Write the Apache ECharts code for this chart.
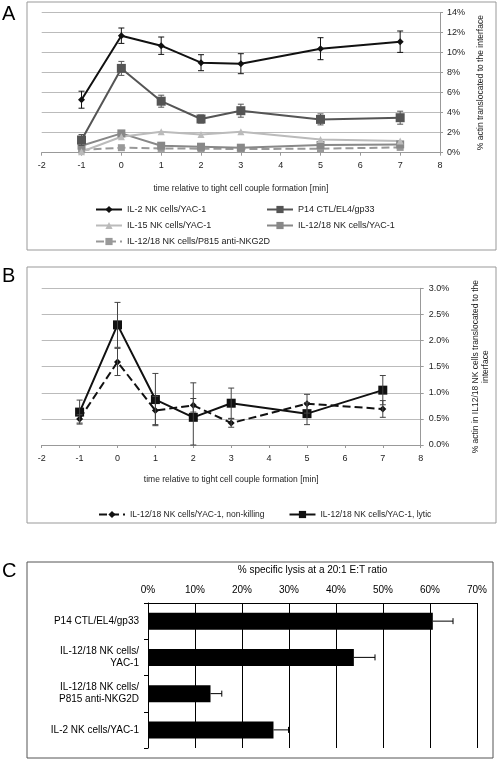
<!DOCTYPE html>
<html><head><meta charset="utf-8">
<script src="https://cdn.jsdelivr.net/npm/echarts@6/dist/echarts.min.js"></script>
<style>html,body{margin:0;padding:0;background:#fff}#c{width:498px;height:761px}</style>
</head><body><div id="c"></div>
<script>
// ---- Panel A data (% actin translocated) ----
const timesA = [-1, 0, 1, 2, 3, 5, 7];
const il2Yac = [5.3, 11.7, 10.7, 9.0, 8.9, 10.4, 11.1];
const il2YacErr = [0.85, 0.77, 0.87, 0.8, 1.0, 1.1, 1.07];
const p14 = [1.27, 8.43, 5.15, 3.37, 4.2, 3.33, 3.5];
const p14Err = [0.55, 0.7, 0.6, 0.4, 0.65, 0.55, 0.65];
const il15Yac = [0.1, 1.6, 2.1, 1.83, 2.1, 1.33, 1.17];
const il1218Yac = [0.7, 1.93, 0.7, 0.6, 0.5, 0.77, 0.83];
const il1218P815 = [0.27, 0.5, 0.43, 0.4, 0.37, 0.4, 0.53];
const namesA = ['IL-2 NK cells/YAC-1', 'P14 CTL/EL4/gp33', 'IL-15 NK cells/YAC-1', 'IL-12/18 NK cells/YAC-1', 'IL-12/18 NK cells/P815 anti-NKG2D'];

// ---- Panel B data ----
const timesB = [-1, 0, 1, 2, 3, 5, 7];
const nonKilling = [0.50, 1.59, 0.66, 0.76, 0.42, 0.79, 0.69];
const nonKillingErr = [0.08, 0.26, 0.27, 0.13, 0.08, 0.18, 0.16];
const lytic = [0.63, 2.30, 0.87, 0.53, 0.80, 0.60, 1.05];
const lyticErr = [0.23, 0.43, 0.5, 0.66, 0.29, 0.21, 0.28];
const namesB = ['IL-12/18 NK cells/YAC-1, non-killing', 'IL-12/18 NK cells/YAC-1, lytic'];

// ---- Panel C data ----
const catsC = ['P14 CTL/EL4/gp33', 'IL-12/18 NK cells/\nYAC-1', 'IL-12/18 NK cells/\nP815 anti-NKG2D', 'IL-2 NK cells/YAC-1'];
const lysis = [60.6, 43.8, 13.3, 26.7];
const lysisErr = [4.3, 4.5, 2.4, 3.2];

const FONT = 'Liberation Sans, Arial, sans-serif';
const zip = (xs, ys) => xs.map((x, i) => [x, ys[i]]);
const errData = (xs, ys, es) => xs.map((x, i) => [x, Math.max(0, ys[i] - es[i]), ys[i] + es[i]]);

function errRender(color) {
  return function (params, api) {
    const x = api.value(0), lo = api.value(1), hi = api.value(2);
    const a = api.coord([x, lo]), b = api.coord([x, hi]);
    const w = 3;
    const st = { stroke: color, lineWidth: 1 };
    return { type: 'group', children: [
      { type: 'line', shape: { x1: a[0], y1: a[1], x2: b[0], y2: b[1] }, style: st },
      { type: 'line', shape: { x1: a[0] - w, y1: a[1], x2: a[0] + w, y2: a[1] }, style: st },
      { type: 'line', shape: { x1: b[0] - w, y1: b[1], x2: b[0] + w, y2: b[1] }, style: st }
    ]};
  };
}
function errC(params, api) {
  const c = api.value(0), v = api.value(1), hi = api.value(2);
  const a = api.coord([v, c]), b = api.coord([hi, c]);
  const st = { stroke: '#000', lineWidth: 1 };
  return { type: 'group', children: [
    { type: 'line', shape: { x1: a[0], y1: a[1], x2: b[0], y2: b[1] }, style: st },
    { type: 'line', shape: { x1: b[0], y1: b[1] - 3, x2: b[0], y2: b[1] + 3 }, style: st }
  ]};
}

const axisLbl = { fontFamily: FONT, fontSize: 9, color: '#222' };
const chart = echarts.init(document.getElementById('c'), null, { renderer: 'canvas' });

const lineSeries = (name, data, color, symbol, size, dashed, xi) => ({
  name, type: 'line', xAxisIndex: xi, yAxisIndex: xi, data,
  symbol, symbolSize: size,
  lineStyle: { color, width: 2, type: dashed ? 'dashed' : 'solid' },
  itemStyle: { color }, z: 3
});

chart.setOption({
  animation: false,
  backgroundColor: '#fff',
  textStyle: { fontFamily: FONT },
  graphic: [
    { type: 'rect', shape: { x: 27, y: 2, width: 469, height: 248 }, style: { fill: 'none', stroke: '#999', lineWidth: 1 } },
    { type: 'rect', shape: { x: 27, y: 267, width: 469, height: 256 }, style: { fill: 'none', stroke: '#999', lineWidth: 1 } },
    { type: 'rect', shape: { x: 27, y: 562, width: 466, height: 196 }, style: { fill: 'none', stroke: '#555', lineWidth: 1 } },
    { type: 'text', left: 2, top: 4, style: { text: 'A', font: '20px ' + FONT, fill: '#000' } },
    { type: 'text', left: 2, top: 266, style: { text: 'B', font: '20px ' + FONT, fill: '#000' } },
    { type: 'text', left: 2, top: 561, style: { text: 'C', font: '20px ' + FONT, fill: '#000' } }
  ],
  grid: [
    { left: 41.7, right: 58, top: 12.7, height: 140, outerBoundsMode: 'none', containLabel: false },
    { left: 41.7, right: 77.3, top: 288.3, height: 156.7, outerBoundsMode: 'none', containLabel: false },
    { left: 148, right: 21, top: 603, height: 145, outerBoundsMode: 'none', containLabel: false }
  ],
  legend: [
    { data: [namesA[0], namesA[2], namesA[4]], left: 90, top: 200, orient: 'vertical', itemGap: 7, itemWidth: 26, itemHeight: 9,
      textStyle: { fontFamily: FONT, fontSize: 9, color: '#222' } },
    { data: [namesA[1], namesA[3]], left: 261, top: 200, orient: 'vertical', itemGap: 7, itemWidth: 26, itemHeight: 9,
      textStyle: { fontFamily: FONT, fontSize: 9, color: '#222' } },
    { data: namesB, left: 93, top: 505, orient: 'horizontal', itemGap: 24, itemWidth: 26, itemHeight: 9,
      textStyle: { fontFamily: FONT, fontSize: 8.5, color: '#222' } }
  ],
  xAxis: [
    { gridIndex: 0, type: 'value', min: -2, max: 8, interval: 1,
      axisLine: { onZero: false, lineStyle: { color: '#999' } }, axisTick: { show: true, length: 3, lineStyle: { color: '#999' } },
      splitLine: { show: false }, axisLabel: { ...axisLbl, margin: 8 },
      name: 'time relative to tight cell couple formation [min]', nameLocation: 'middle', nameGap: 31,
      nameTextStyle: { fontFamily: FONT, fontSize: 8.5, color: '#222' } },
    { gridIndex: 1, type: 'value', min: -2, max: 8, interval: 1,
      axisLine: { onZero: false, lineStyle: { color: '#999' } }, axisTick: { show: true, length: 3, lineStyle: { color: '#999' } },
      splitLine: { show: false }, axisLabel: { ...axisLbl, margin: 9 },
      name: 'time relative to tight cell couple formation [min]', nameLocation: 'middle', nameGap: 30,
      nameTextStyle: { fontFamily: FONT, fontSize: 8.5, color: '#222' } },
    { gridIndex: 2, type: 'value', position: 'top', min: 0, max: 70, interval: 10,
      axisLine: { show: true, onZero: false, lineStyle: { color: '#000' } }, axisTick: { show: false },
      splitLine: { show: true, lineStyle: { color: '#000', width: 1 } },
      axisLabel: { fontFamily: FONT, fontSize: 10, color: '#000', margin: 8, formatter: '{value}%' },
      name: '% specific lysis at a 20:1 E:T ratio', nameLocation: 'middle', nameGap: 28,
      nameTextStyle: { fontFamily: FONT, fontSize: 10, color: '#000' } }
  ],
  yAxis: [
    { gridIndex: 0, type: 'value', position: 'right', min: 0, max: 14, interval: 2,
      axisLine: { show: true, onZero: false, lineStyle: { color: '#999' } }, axisTick: { show: true, length: 3, lineStyle: { color: '#999' } },
      splitLine: { lineStyle: { color: '#bbb' } },
      axisLabel: { ...axisLbl, margin: 7, formatter: '{value}%' },
      name: '% actin translocated to the interface', nameLocation: 'middle', nameRotate: 90, nameGap: 33,
      nameTextStyle: { fontFamily: FONT, fontSize: 8.5, color: '#222' } },
    { gridIndex: 1, type: 'value', position: 'right', min: 0, max: 3, interval: 0.5,
      axisLine: { show: true, onZero: false, lineStyle: { color: '#999' } }, axisTick: { show: true, length: 3, lineStyle: { color: '#999' } },
      splitLine: { lineStyle: { color: '#bbb' } },
      axisLabel: { ...axisLbl, margin: 8, formatter: v => v.toFixed(1) + '%' },
      name: '% actin in IL12/18 NK cells translocated to the\ninterface', nameLocation: 'middle', nameRotate: 90, nameGap: 50,
      nameTextStyle: { fontFamily: FONT, fontSize: 8.5, color: '#222', lineHeight: 10 } },
    { gridIndex: 2, type: 'category', data: catsC, inverse: true,
      axisLine: { show: true, onZero: false, lineStyle: { color: '#000' } },
      axisTick: { show: true, length: 4, lineStyle: { color: '#000' } },
      axisLabel: { fontFamily: FONT, fontSize: 10, color: '#000', margin: 9, lineHeight: 12, align: 'right' } }
  ],
  series: [
    lineSeries(namesA[4], zip(timesA, il1218P815), '#999', 'rect', 7, true, 0),
    lineSeries(namesA[3], zip(timesA, il1218Yac), '#888', 'rect', 8, false, 0),
    lineSeries(namesA[2], zip(timesA, il15Yac), '#bbb', 'triangle', 7, false, 0),
    lineSeries(namesA[1], zip(timesA, p14), '#555', 'rect', 9, false, 0),
    lineSeries(namesA[0], zip(timesA, il2Yac), '#111', 'diamond', 7, false, 0),
    { type: 'custom', xAxisIndex: 0, yAxisIndex: 0, renderItem: errRender('#555'), data: errData(timesA, p14, p14Err), encode: { x: 0, y: [1, 2] }, z: 4 },
    { type: 'custom', xAxisIndex: 0, yAxisIndex: 0, renderItem: errRender('#111'), data: errData(timesA, il2Yac, il2YacErr), encode: { x: 0, y: [1, 2] }, z: 4 },
    lineSeries(namesB[0], zip(timesB, nonKilling), '#111', 'diamond', 7, true, 1),
    lineSeries(namesB[1], zip(timesB, lytic), '#111', 'rect', 9, false, 1),
    { type: 'custom', xAxisIndex: 1, yAxisIndex: 1, renderItem: errRender('#444'), data: errData(timesB, nonKilling, nonKillingErr), encode: { x: 0, y: [1, 2] }, z: 4 },
    { type: 'custom', xAxisIndex: 1, yAxisIndex: 1, renderItem: errRender('#444'), data: errData(timesB, lytic, lyticErr), encode: { x: 0, y: [1, 2] }, z: 4 },
    { type: 'bar', xAxisIndex: 2, yAxisIndex: 2, data: lysis, barWidth: 17, itemStyle: { color: '#000' }, z: 3 },
    { type: 'custom', xAxisIndex: 2, yAxisIndex: 2, renderItem: errC,
      data: lysis.map((v, i) => [i, v, v + lysisErr[i]]), encode: { y: 0, x: [1, 2] }, z: 4 }
  ]
});
</script></body></html>
